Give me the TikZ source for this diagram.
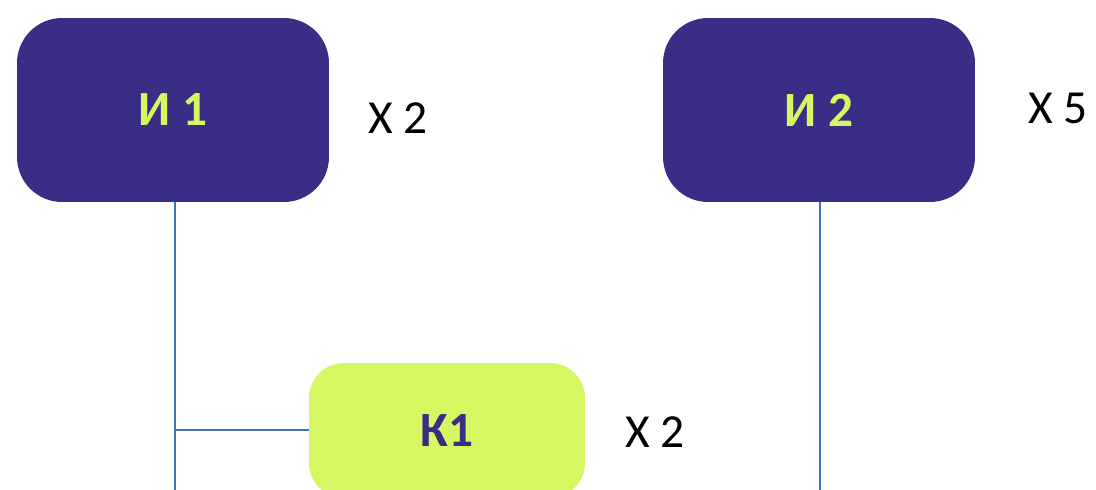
\documentclass[tikz,border=0pt]{standalone}
\usepackage{fontspec}
\setmainfont{Carlito}
\usepackage{tikz}
\definecolor{darkpurple}{HTML}{3A2D85}
\definecolor{limegreen}{HTML}{D5F862}
\definecolor{linkblue}{HTML}{4472C4}

\begin{document}
\begin{tikzpicture}[x=0.02cm, y=-0.02cm,
    bigbox/.style={rounded corners=0.9cm, fill=darkpurple, text=limegreen,
        minimum width=6.24cm, minimum height=3.68cm,
        font=\fontsize{28}{34}\selectfont\bfseries},
    smallbox/.style={rounded corners=0.7cm, fill=limegreen, text=darkpurple,
        minimum width=5.52cm, minimum height=2.7cm,
        font=\fontsize{28}{34}\selectfont\bfseries},
    countlabel/.style={font=\fontsize{27}{32}\selectfont},
    link/.style={linkblue, line width=1pt}]
            \useasboundingbox (0,0) rectangle (1096,490);
            \clip (0,0) rectangle (1096,490);

            % Add boxes
            \node[bigbox] (I_1) at (173,110) {И 1};
            \node[bigbox] (I_2) at (819,110) {И 2};
            \node[smallbox] (K_1) at (447,430.5) {К1};

            % Add counts
            \node[countlabel] (N_1) at (398,118) {X 2};
            \node[countlabel] (N_2) at (1058,108) {X 5};
            \node[countlabel] (N_3) at (655,432) {X 2};

            \coordinate (E_1) at (175,490);
            \coordinate (E_2) at (820,490);
            \coordinate (J_1) at (175,430);

            % Draw edges
            \draw[link] (I_1.south -| E_1) -- (E_1);
            \draw[link] (J_1) -- (K_1.west |- J_1);
            \draw[link] (I_2.south -| E_2) -- (E_2);
        \end{tikzpicture}
\end{document}
